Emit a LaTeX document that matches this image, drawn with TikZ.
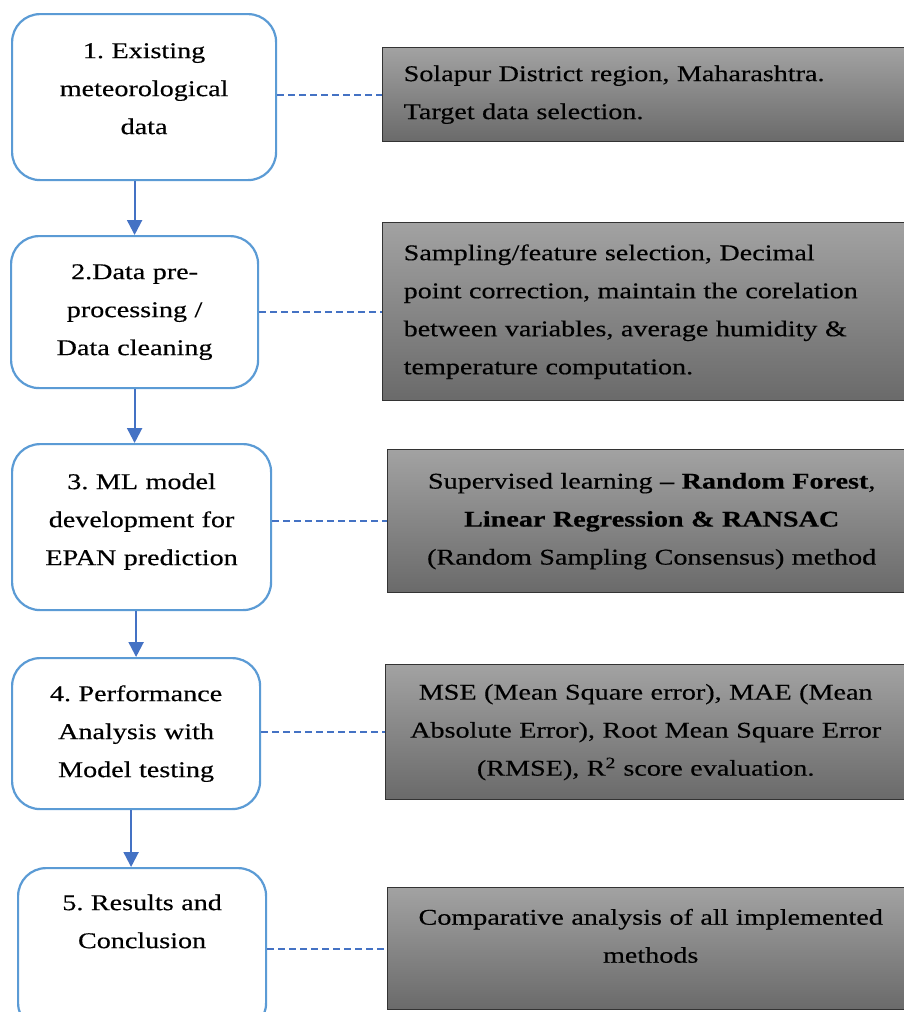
\documentclass[tikz,border=0pt]{standalone}
\usepackage{fontspec}
\setmainfont{Liberation Serif}[FakeStretch=1.25, FakeBold=0.4]
\usetikzlibrary{arrows.meta}

\definecolor{stageblue}{RGB}{91,155,213}
\definecolor{flowblue}{RGB}{68,114,196}
\definecolor{boxtop}{RGB}{162,162,162}
\definecolor{boxbot}{RGB}{106,106,106}

\tikzset{
  stage/.style={draw=stageblue, line width=2.2pt, rounded corners=28pt, fill=white,
    align=center, inner sep=0pt, anchor=north west},
  info/.style={draw=black!80, line width=1.4pt, top color=boxtop, bottom color=boxbot,
    inner sep=0pt, anchor=north west},
  flow/.style={draw=flowblue, line width=2.2pt, -{Triangle[length=15pt,width=15pt]}},
  link/.style={draw=flowblue, line width=1.8pt, dash pattern=on 7pt off 4pt}
}

\begin{document}
\begin{tikzpicture}[x=1pt, y=-1pt, every node/.style={font=\fontsize{22.5}{38}\selectfont\frenchspacing}]
	\useasboundingbox (0,0) rectangle (904,1012);
	\clip (0,0) rectangle (904,1012);
	% steps on the left
	\node[stage, minimum width=264pt, text width=244pt, text height=44pt, text depth=122pt] (b1) at (11,13) {1. Existing\\meteorological\\data};
	\node[stage, minimum width=247pt, minimum height=152pt, text width=236pt] (b2) at (10,235) {2.Data pre-\\processing /\\Data cleaning};
	\node[stage, minimum width=259pt, text width=246pt, text height=45pt, text depth=121pt] (b3) at (11,443) {3. ML model\\development for\\EPAN prediction};
	\node[stage, minimum width=248pt, minimum height=151pt, text width=236pt] (b4) at (11,657) {4. Performance\\Analysis with\\Model testing};
	\node[stage, minimum width=248pt, text width=236pt, text height=42pt, text depth=121pt] (b5) at (17,867) {5. Results and\\Conclusion};
	% notes on the right
	\node[info, minimum width=540pt, minimum height=94pt, text width=498pt, align=left] (r1) at (382,47) {Solapur District region, Maharashtra.\\Target data selection.};
	\node[info, minimum width=540pt, minimum height=178pt, text width=498pt, align=left] (r2) at (382,222) {Sampling/feature selection, Decimal\\point correction, maintain the corelation\\between variables, average humidity \&\\temperature computation.};
	\node[info, minimum width=528pt, minimum height=143pt, text width=510pt, align=center] (r3) at (387,449) {Supervised learning \textbf{– Random Forest},\\\textbf{Linear Regression \& RANSAC}\\(Random Sampling Consensus) method};
	\node[info, minimum width=520pt, minimum height=135pt, text width=510pt, align=center] (r4) at (385,664) {MSE (Mean Square error), MAE (Mean\\Absolute Error), Root Mean Square Error\\(RMSE), R\textsuperscript{2} score evaluation.};
	\node[info, minimum width=526pt, text width=510pt, text height=37pt, text depth=85pt, align=center] (r5) at (387,887) {Comparative analysis of all implemented\\methods};
	% arrows
	\draw[flow] (b1.south -| b2.north) -- (b2.north);
	\draw[flow] (b2.south) -- (b2.south |- b3.north);
	\draw[flow] (b3.south -| b4.north) -- (b4.north);
	\draw[flow] ([xshift=-5pt]b4.south) -- ([xshift=-5pt]b4.south |- b5.north);
	% dashed links
	\draw[link] (r1.west -| b1.east) -- (r1.west);
	\draw[link] (r2.west -| b2.east) -- (r2.west);
	\draw[link] (r3.west -| b3.east) -- (r3.west);
	\draw[link] (r4.west -| b4.east) -- (r4.west);
	\draw[link] (r5.west -| b5.east) -- (r5.west);
\end{tikzpicture}
\end{document}
